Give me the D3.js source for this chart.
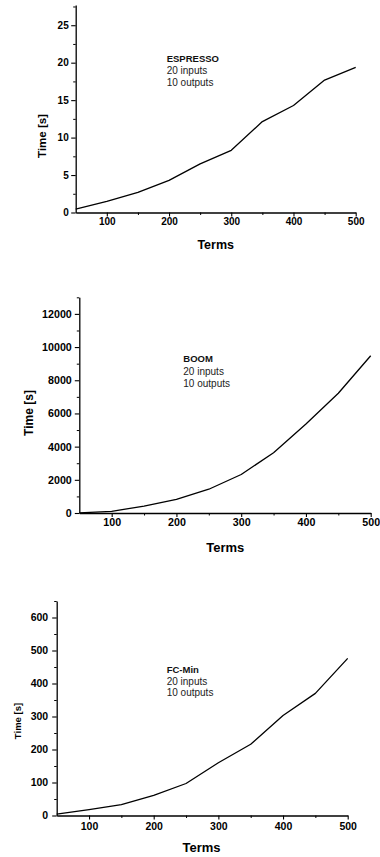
<!DOCTYPE html>
<html>
<head>
<meta charset="utf-8">
<script src="https://cdn.jsdelivr.net/npm/d3@7"></script>
<style>
  html, body { margin: 0; padding: 0; background: #fff; }
  svg { display: block; }
  text { font-family: "Liberation Sans", Arial, sans-serif; }
</style>
</head>
<body>
<svg id="chart" width="380" height="857"></svg>
<script>
// ---- Data ----
const terms = [50, 100, 150, 200, 250, 300, 350, 400, 450, 500];
const espressoTimes = [0.45, 1.47, 2.68, 4.29, 6.5, 8.3, 12.14, 14.29, 17.68, 19.38];
const boomTimes = [10, 100, 420, 827, 1432, 2320, 3630, 5365, 7220, 9480];
const fcminTimes = [4, 18, 33, 61, 97, 160, 216, 303, 370, 476];

const xTicks = [100, 200, 300, 400, 500];
const xMinorTicks = [150, 250, 350, 450];
const espressoYTicks = [0, 5, 10, 15, 20, 25];
const espressoYMinor = [2.5, 7.5, 12.5, 17.5, 22.5, 27.5];
const boomYTicks = [0, 2000, 4000, 6000, 8000, 10000, 12000];
const boomYMinor = [1000, 3000, 5000, 7000, 9000, 11000, 13000];
const fcminYTicks = [0, 100, 200, 300, 400, 500, 600];
const fcminYMinor = [50, 150, 250, 350, 450, 550, 650];

const titles = ["ESPRESSO", "BOOM", "FC-Min"];
const noteLines = ["20 inputs", "10 outputs"];
const xLabel = "Terms";
const yLabel = "Time [s]";

// ---- Layout (positions only) ----
const panels = [
  { values: espressoTimes, yTicks: espressoYTicks, yMinor: espressoYMinor, yMax: 27.7,
    x0: 75.7, x1: 355.7, yBottom: 212.5, yTop: 5, tickFont: 10, xPad: 1.5, yPad: 2.5,
    title: titles[0], note: [166.7, 61.7, 12.3], noteFont: 10, titleFont: 9.5,
    yLab: [46, 136, 11.5], xLab: [215.7, 249.3, 12.5] },
  { values: boomTimes, yTicks: boomYTicks, yMinor: boomYMinor, yMax: 13000,
    x0: 79.3, x1: 370.7, yBottom: 513, yTop: 297.3, tickFont: 10.7, xPad: 1, yPad: 3,
    title: titles[1], note: [183.3, 362.3, 12.5], noteFont: 10, titleFont: 9.5,
    yLab: [33, 413, 12], xLab: [225.3, 551.5, 13] },
  { values: fcminTimes, yTicks: fcminYTicks, yMinor: fcminYMinor, yMax: 650,
    x0: 56.7, x1: 347.7, yBottom: 815.5, yTop: 601, tickFont: 10.5, xPad: 3, yPad: 4,
    title: titles[2], note: [166.7, 673.3, 11.5], noteFont: 10, titleFont: 9.5,
    yLab: [20.5, 721, 9.5], xLab: [201.5, 852.3, 13] }
];

const svg = d3.select("#chart");

panels.forEach(p => {
  const g = svg.append("g");
  const x = d3.scaleLinear().domain([50, 500]).range([p.x0, p.x1]);
  const y = d3.scaleLinear().domain([0, p.yMax]).range([p.yBottom, p.yTop]);

  // minor ticks
  g.append("g")
    .attr("transform", `translate(0,${p.yBottom})`)
    .call(d3.axisBottom(x).tickValues(xMinorTicks).tickSize(2.5).tickFormat(""))
    .call(a => a.select(".domain").remove());
  g.append("g")
    .attr("transform", `translate(${p.x0},0)`)
    .call(d3.axisLeft(y).tickValues(p.yMinor).tickSize(2.5).tickFormat(""))
    .call(a => a.select(".domain").remove());

  // major axes
  const xa = g.append("g")
    .attr("transform", `translate(0,${p.yBottom})`)
    .call(d3.axisBottom(x).tickValues(xTicks).tickSize(4).tickSizeOuter(0).tickPadding(p.xPad).tickFormat(d3.format("d")));
  const ya = g.append("g")
    .attr("transform", `translate(${p.x0},0)`)
    .call(d3.axisLeft(y).tickValues(p.yTicks).tickSize(4.5).tickSizeOuter(0).tickPadding(p.yPad).tickFormat(d3.format("d")));

  [xa, ya].forEach(a => {
    a.selectAll("text").attr("font-size", p.tickFont).attr("font-weight", "bold")
      .attr("fill", "#000").style("font-family", '"Liberation Sans", Arial, sans-serif');
    a.select(".domain").attr("stroke-width", 1.3);
    a.selectAll(".tick line").attr("stroke-width", 1.1);
  });
  g.selectAll(".tick line").attr("stroke", "#000");
  g.selectAll(".domain").attr("stroke", "#000");

  // line
  const line = d3.line().x((d, i) => x(terms[i])).y(d => y(d));
  g.append("path").datum(p.values)
    .attr("d", line)
    .attr("fill", "none")
    .attr("stroke", "#000")
    .attr("stroke-width", 1.3)
    .attr("stroke-linejoin", "round");

  // annotation
  g.append("text").attr("x", p.note[0]).attr("y", p.note[1])
    .attr("font-size", p.titleFont).attr("font-weight", "bold").attr("fill", "#111")
    .text(p.title);
  noteLines.forEach((t, i) => {
    g.append("text").attr("x", p.note[0]).attr("y", p.note[1] + p.note[2] * (i + 1))
      .attr("font-size", p.noteFont).attr("fill", "#222").text(t);
  });

  // axis labels
  g.append("text")
    .attr("transform", `translate(${p.yLab[0]},${p.yLab[1]}) rotate(-90)`)
    .attr("text-anchor", "middle").attr("font-size", p.yLab[2]).attr("font-weight", "bold")
    .text(yLabel);
  g.append("text")
    .attr("x", p.xLab[0]).attr("y", p.xLab[1])
    .attr("text-anchor", "middle").attr("font-size", p.xLab[2]).attr("font-weight", "bold")
    .text(xLabel);
});
</script>
</body>
</html>
